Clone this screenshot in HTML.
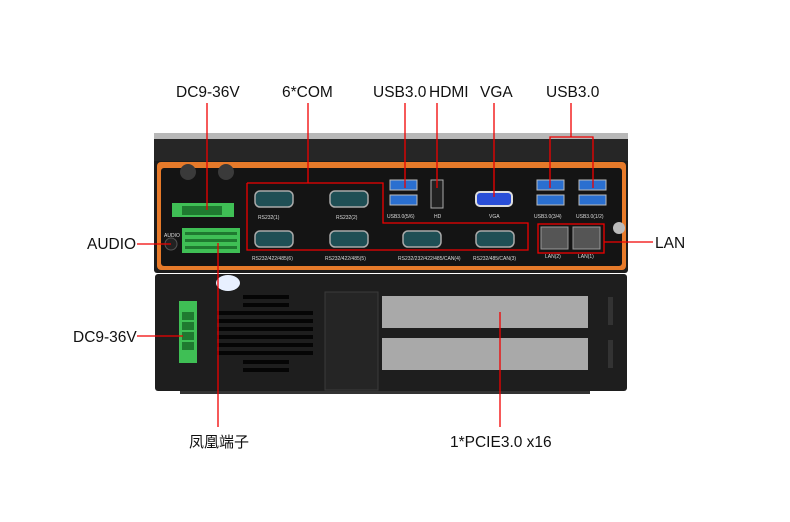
<!DOCTYPE html>
<html><head><meta charset="utf-8"><style>
html,body{margin:0;padding:0;background:#fff;}
svg{display:block}
text{font-family:"Liberation Sans","Noto Sans CJK SC",sans-serif;fill:#111;}
</style></head><body>
<svg width="790" height="522" viewBox="0 0 790 522" xmlns="http://www.w3.org/2000/svg">
<rect x="154" y="133" width="474" height="140" rx="3" fill="#1c1c1c"/>
<rect x="154" y="133" width="474" height="6" fill="#b8b8b8"/>
<rect x="154" y="139" width="474" height="22" fill="#262626"/>
<rect x="157" y="162" width="469" height="108" rx="4" fill="#e67a2a"/>
<rect x="161" y="168" width="461" height="98" rx="3" fill="#141414"/>
<circle cx="188" cy="172" r="8" fill="#3a3a3a"/><circle cx="226" cy="172" r="8" fill="#3a3a3a"/>
<rect x="172" y="203" width="62" height="14" fill="#3fbf55"/>
<rect x="182" y="206" width="40" height="9" fill="#1f7a30"/>
<circle cx="171" cy="244" r="6" fill="#222" stroke="#555"/>
<rect x="182" y="228" width="58" height="25" fill="#3fbf55"/>
<g fill="#1f7a30"><rect x="185" y="232" width="52" height="3"/><rect x="185" y="239" width="52" height="3"/><rect x="185" y="246" width="52" height="3"/></g>
<g fill="#1f4f55" stroke="#aaa" stroke-width="1.5">
<rect x="255" y="191" width="38" height="16" rx="5"/><rect x="330" y="191" width="38" height="16" rx="5"/>
<rect x="255" y="231" width="38" height="16" rx="5"/><rect x="330" y="231" width="38" height="16" rx="5"/>
<rect x="403" y="231" width="38" height="16" rx="5"/><rect x="476" y="231" width="38" height="16" rx="5"/>
</g>
<g fill="#2a6fd0" stroke="#bbb"><rect x="390" y="180" width="27" height="10"/><rect x="390" y="195" width="27" height="10"/>
<rect x="537" y="180" width="27" height="10"/><rect x="537" y="195" width="27" height="10"/>
<rect x="579" y="180" width="27" height="10"/><rect x="579" y="195" width="27" height="10"/></g>
<rect x="431" y="180" width="12" height="28" fill="#222" stroke="#aaa"/>
<rect x="476" y="192" width="36" height="14" rx="4" fill="#2a4fd8" stroke="#ddd" stroke-width="2"/>
<rect x="541" y="227" width="27" height="22" fill="#555" stroke="#999"/><rect x="573" y="227" width="27" height="22" fill="#555" stroke="#999"/>
<circle cx="619" cy="228" r="6" fill="#bbb"/>
<g font-size="5">
<text x="258" y="219" style="fill:#ddd">RS232(1)</text><text x="336" y="219" style="fill:#ddd">RS232(2)</text>
<text x="252" y="260" style="fill:#ddd">RS232/422/485(6)</text><text x="325" y="260" style="fill:#ddd">RS232/422/485(5)</text>
<text x="398" y="260" style="fill:#ddd">RS232/232/422/485/CAN(4)</text><text x="473" y="260" style="fill:#ddd">RS232/485/CAN(3)</text>
<text x="387" y="218" style="fill:#ddd">USB3.0(5/6)</text><text x="434" y="218" style="fill:#ddd">HD</text><text x="489" y="218" style="fill:#ddd">VGA</text>
<text x="534" y="218" style="fill:#ddd">USB3.0(3/4)</text><text x="576" y="218" style="fill:#ddd">USB3.0(1/2)</text>
<text x="545" y="258" style="fill:#ddd">LAN(2)</text><text x="578" y="258" style="fill:#ddd">LAN(1)</text>
<text x="164" y="237" style="fill:#ddd">AUDIO</text>
</g>
<rect x="155" y="274" width="472" height="117" rx="3" fill="#1e1e1e"/>
<rect x="180" y="391" width="410" height="3" fill="#333"/>
<ellipse cx="228" cy="283" rx="12" ry="8" fill="#e8f0ff"/>
<g fill="#050505">
<rect x="243" y="295" width="46" height="4"/><rect x="243" y="303" width="46" height="4"/>
<rect x="217" y="311" width="96" height="4"/><rect x="217" y="319" width="96" height="4"/><rect x="217" y="327" width="96" height="4"/><rect x="217" y="335" width="96" height="4"/><rect x="217" y="343" width="96" height="4"/><rect x="217" y="351" width="96" height="4"/>
<rect x="243" y="360" width="46" height="4"/><rect x="243" y="368" width="46" height="4"/>
</g>
<rect x="325" y="292" width="53" height="98" fill="#252525" stroke="#3a3a3a"/>
<rect x="382" y="296" width="206" height="32" fill="#a9a9a9"/>
<rect x="382" y="338" width="206" height="32" fill="#a9a9a9"/>
<rect x="608" y="297" width="5" height="28" fill="#333"/><rect x="608" y="340" width="5" height="28" fill="#333"/>
<rect x="179" y="301" width="18" height="62" fill="#3fbf55"/>
<g fill="#1f7a30"><rect x="182" y="312" width="12" height="8"/><rect x="182" y="322" width="12" height="8"/><rect x="182" y="332" width="12" height="8"/><rect x="182" y="342" width="12" height="8"/></g>
<g stroke="#f00000" stroke-width="1.3" fill="none">
<line x1="207" y1="103" x2="207" y2="210"/>
<line x1="308" y1="103" x2="308" y2="183"/>
<polyline points="247,183 383,183 383,223 528,223 528,250 247,250 247,183"/>
<line x1="405" y1="103" x2="405" y2="188"/>
<line x1="437" y1="103" x2="437" y2="188"/>
<line x1="494" y1="103" x2="494" y2="197"/>
<line x1="571" y1="103" x2="571" y2="137"/>
<polyline points="550,188 550,137 593,137 593,188"/>
<rect x="538" y="224" width="66" height="29"/>
<line x1="604" y1="242" x2="653" y2="242"/>
<line x1="137" y1="244" x2="171" y2="244"/>
<line x1="137" y1="336" x2="183" y2="336"/>
<line x1="218" y1="243" x2="218" y2="427"/>
<line x1="500" y1="312" x2="500" y2="427"/>
</g>
<g font-size="15.5">
<text x="176" y="97">DC9-36V</text>
<text x="282" y="97">6*COM</text>
<text x="373" y="97">USB3.0</text>
<text x="429" y="97">HDMI</text>
<text x="480" y="97">VGA</text>
<text x="546" y="97">USB3.0</text>
<text x="655" y="248">LAN</text>
<text x="87" y="249">AUDIO</text>
<text x="73" y="342">DC9-36V</text>
<text x="189" y="447" font-size="15">凤凰端子</text>
<text x="450" y="447">1*PCIE3.0 x16</text>
</g>
</svg>
</body></html>
